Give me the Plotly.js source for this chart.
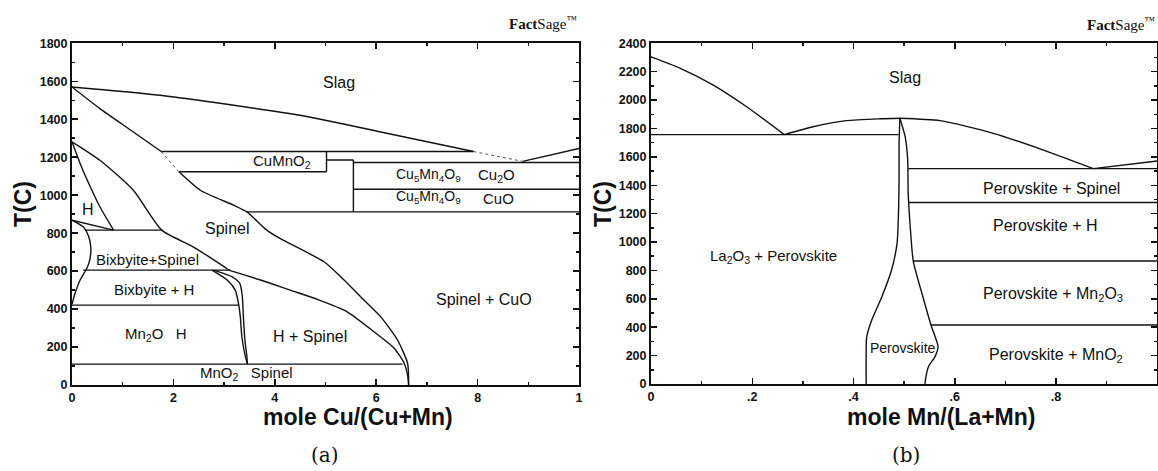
<!DOCTYPE html>
<html><head><meta charset="utf-8">
<script src="https://cdn.plot.ly/plotly-3.0.1.min.js"></script>
<style>html,body{margin:0;padding:0;background:#fff}#chart{width:1158px;height:471px}</style>
</head><body><div id="chart"></div><script>
// ---------- Panel (a): Cu-Mn-O, T(C) vs mole Cu/(Cu+Mn) ----------
const aLiqX = [0, 0.174, 0.45, 0.609, 0.792];
const aLiqT = [1570, 1526, 1421, 1333, 1230];
const aLiqDotX = [0.792, 0.889];
const aLiqDotT = [1230, 1178];
const aLiqRightX = [0.889, 1];
const aLiqRightT = [1178, 1246];
const aSpLiqX = [0, 0.055, 0.121, 0.176];
const aSpLiqT = [1570, 1456, 1333, 1230];
const aSpDotX = [0.176, 0.211];
const aSpDotT = [1230, 1123];
const aSpSolvX = [0.211, 0.253, 0.319, 0.345, 0.384, 0.411, 0.497, 0.530, 0.576, 0.609, 0.642, 0.662, 0.664];
const aSpSolvT = [1123, 1026, 947, 912, 816, 771, 649, 570, 447, 359, 237, 114, 0];
const aHSpX = [0.309, 0.372, 0.43, 0.485, 0.542, 0.595, 0.635, 0.655, 0.662, 0.664];
const aHSpT = [605, 553, 500, 450, 387, 282, 195, 116, 50, 0];
const aHLeftX = [0, 0.016, 0.036, 0.055, 0.082];
const aHLeftT = [1281, 1167, 1044, 939, 816];
const aSpLeftX = [0, 0.055, 0.121, 0.177, 0.239, 0.305, 0.309];
const aSpLeftT = [1281, 1184, 1026, 816, 728, 614, 605];
const aBixX = [0, 0.022, 0.032, 0.037, 0.035, 0.029, 0.016, 0.006, 0.0015, 0];
const aBixT = [868, 833, 789, 728, 658, 614, 553, 483, 440, 425];
const aTieX = [0, 0.082];
const aTieT = [868, 816];
const aH1X = [0.276, 0.306, 0.322, 0.329, 0.332, 0.335, 0.342, 0.346];
const aH1T = [605, 553, 500, 421, 359, 254, 149, 110];
const aH2X = [0.279, 0.316, 0.331, 0.336, 0.338, 0.341, 0.345, 0.346];
const aH2T = [605, 570, 535, 465, 359, 237, 149, 110];
// horizontal invariant lines (a): T, start, end
const aIsoT = [1230, 1123, 1185, 1172, 1031, 912, 816, 605, 421, 110];
const aIsoX0 = [0.176, 0.211, 0.502, 0.555, 0.555, 0.345, 0.026, 0.022, 0, 0];
const aIsoX1 = [0.792, 0.502, 0.555, 1, 1, 1, 0.177, 0.312, 0.329, 0.652];
// vertical lines (a): x, low T, high T
const aVertX = [0.502, 0.555];
const aVertT0 = [1123, 912];
const aVertT1 = [1230, 1185];

// ---------- Panel (b): La-Mn-O, T(C) vs mole Mn/(La+Mn) ----------
const bLiqLX = [0, 0.058, 0.123, 0.189, 0.263];
const bLiqLT = [2305, 2224, 2106, 1953, 1757];
const bLiqMX = [0.263, 0.320, 0.386, 0.452, 0.4916];
const bLiqMT = [1757, 1812, 1855, 1868, 1872];
const bLiqRX = [0.4916, 0.571, 0.676, 0.775, 0.874];
const bLiqRT = [1872, 1855, 1766, 1648, 1517];
const bLiqFX = [0.874, 1];
const bLiqFT = [1517, 1571];
const bPerLX = [0.4916, 0.490, 0.490, 0.489, 0.486, 0.475, 0.456, 0.436, 0.426, 0.425, 0.425];
const bPerLT = [1872, 1695, 1460, 1226, 991, 801, 615, 451, 330, 250, 0];
const bPerRX = [0.4916, 0.502, 0.507, 0.508, 0.512, 0.518, 0.537, 0.553, 0.567, 0.561, 0.548, 0.543, 0.541];
const bPerRT = [1872, 1742, 1578, 1343, 1108, 866, 615, 416, 263, 193, 122, 51, 0];
const bIsoT = [1757, 1517, 1279, 866, 416];
const bIsoX0 = [0, 0.508, 0.508, 0.518, 0.553];
const bIsoX1 = [0.489, 1, 1, 1, 1];

// ---------- tick labels ----------
const xTickVals = [0, 0.2, 0.4, 0.6, 0.8, 1];
const aXTickText = ['0', '2', '4', '6', '8', '1'];
const bXTickText = ['0', '.2', '.4', '.6', '.8', '1'];

// ---------- phase labels ----------
const aLabText = ['Slag', 'CuMnO<sub>2</sub>', 'Cu<sub>5</sub>Mn<sub>4</sub>O<sub>9</sub>', 'Cu<sub>2</sub>O',
  'Cu<sub>5</sub>Mn<sub>4</sub>O<sub>9</sub>', 'CuO', 'H', 'Spinel', 'Bixbyite+Spinel', 'Bixbyite + H',
  'Mn<sub>2</sub>O   H', 'H + Spinel', 'Spinel + CuO', 'MnO<sub>2</sub>   Spinel'];
const aLabX = [0.526, 0.414, 0.703, 0.837, 0.703, 0.842, 0.032, 0.306, 0.148, 0.161, 0.165, 0.470, 0.813, 0.345];
const aLabT = [1596, 1176, 1105, 1105, 992, 985, 925, 825, 662, 504, 268, 254, 451, 58];
const aLabSize = [16, 15, 14, 15, 14, 15, 16, 16, 15, 15, 15, 16, 16, 15];
const bLabText = ['Slag', 'La<sub>2</sub>O<sub>3</sub> + Perovskite', 'Perovskite + Spinel', 'Perovskite + H',
  'Perovskite + Mn<sub>2</sub>O<sub>3</sub>', 'Perovskite + MnO<sub>2</sub>', 'Perovskite'];
const bLabX = [0.502, 0.241, 0.791, 0.778, 0.794, 0.800, 0.498];
const bLabT = [2160, 897, 1378, 1120, 627, 204, 251];
const bLabSize = [16, 15, 16, 16, 16, 16, 14];

const INK = '#111';
function line(x, y, panel, opt) {
  opt = opt || {};
  return {type: 'scatter', mode: 'lines', x: x, y: y,
    xaxis: panel === 2 ? 'x2' : 'x', yaxis: panel === 2 ? 'y2' : 'y',
    line: {color: opt.color || INK, width: opt.width || 1.4, shape: opt.shape || 'linear',
      smoothing: 0.6, dash: opt.dash || 'solid'},
    hoverinfo: 'skip', showlegend: false};
}
const traces = [];
const sp = {shape: 'spline'};
traces.push(line(aLiqX, aLiqT, 1, sp));
traces.push(line(aLiqDotX, aLiqDotT, 1, {dash: 'dot', width: 1, color: '#555'}));
traces.push(line(aLiqRightX, aLiqRightT, 1));
traces.push(line(aSpLiqX, aSpLiqT, 1, sp));
traces.push(line(aSpDotX, aSpDotT, 1, {dash: 'dot', width: 1, color: '#555'}));
traces.push(line(aSpSolvX, aSpSolvT, 1, sp));
traces.push(line(aHSpX, aHSpT, 1, sp));
traces.push(line(aHLeftX, aHLeftT, 1, sp));
traces.push(line(aSpLeftX, aSpLeftT, 1, sp));
traces.push(line(aBixX, aBixT, 1, sp));
traces.push(line(aTieX, aTieT, 1));
traces.push(line(aH1X, aH1T, 1, sp));
traces.push(line(aH2X, aH2T, 1, sp));
aIsoT.forEach((t, i) => traces.push(line([aIsoX0[i], aIsoX1[i]], [t, t], 1)));
aVertX.forEach((x, i) => traces.push(line([x, x], [aVertT0[i], aVertT1[i]], 1)));

traces.push(line(bLiqLX, bLiqLT, 2, sp));
traces.push(line(bLiqMX, bLiqMT, 2, sp));
traces.push(line(bLiqRX, bLiqRT, 2, sp));
traces.push(line(bLiqFX, bLiqFT, 2));
traces.push(line(bPerLX, bPerLT, 2, sp));
traces.push(line(bPerRX, bPerRT, 2, sp));
bIsoT.forEach((t, i) => traces.push(line([bIsoX0[i], bIsoX1[i]], [t, t], 2)));

const tickFont = {family: 'Liberation Sans, Arial, sans-serif', size: 12.5, color: INK, weight: 'bold'};
function axisBase(extra) {
  return Object.assign({
    showline: true, linewidth: 2, linecolor: INK, mirror: 'allticks',
    ticks: 'inside', ticklen: 6, tickwidth: 1.5, tickcolor: INK,
    showgrid: false, zeroline: false, fixedrange: true, tickfont: tickFont
  }, extra);
}
function labFont(s) { return {family: 'Liberation Sans, Arial, sans-serif', size: s, color: INK}; }
const annotations = [];
aLabText.forEach((t, i) => annotations.push({x: aLabX[i], y: aLabT[i], xref: 'x', yref: 'y', text: t,
  showarrow: false, font: labFont(aLabSize[i]), xanchor: 'center', yanchor: 'middle'}));
bLabText.forEach((t, i) => annotations.push({x: bLabX[i], y: bLabT[i], xref: 'x2', yref: 'y2', text: t,
  showarrow: false, font: labFont(bLabSize[i]), xanchor: 'center', yanchor: 'middle'}));
const W = 1158, H = 471;
function paper(px, py, text, font, extra) {
  annotations.push(Object.assign({x: px / W, y: 1 - py / H, xref: 'paper', yref: 'paper', text: text,
    showarrow: false, font: font, xanchor: 'center', yanchor: 'middle'}, extra || {}));
}
const titleFont = {family: 'Liberation Sans, Arial, sans-serif', size: 23, color: INK, weight: 'bold'};
paper(358, 417, '<b>mole Cu/(Cu+Mn)</b>', titleFont);
paper(941, 417, '<b>mole Mn/(La+Mn)</b>', titleFont);
paper(23, 204, '<b>T(C)</b>', titleFont, {textangle: -90});
paper(603, 204, '<b>T(C)</b>', titleFont, {textangle: -90});
const serif = {family: 'DejaVu Serif, Liberation Serif, serif', size: 20, color: INK};
paper(325, 455, '(a)', serif);
paper(906, 455, '(b)', serif);
const logoFont = {family: 'Liberation Serif, serif', size: 15, color: INK};
paper(543, 23, '<b>Fact</b>Sage<sup>™</sup>', logoFont);
paper(1121, 24, '<b>Fact</b>Sage<sup>™</sup>', logoFont);

const layout = {
  width: W, height: H, margin: {l: 0, r: 0, t: 0, b: 0},
  paper_bgcolor: '#fff', plot_bgcolor: '#fff', showlegend: false,
  xaxis: axisBase({domain: [72 / W, 579 / W], range: [0, 1], anchor: 'y', tickmode: 'array',
    tickvals: xTickVals, ticktext: aXTickText, minor: {dtick: 0.1, tick0: 0, ticks: 'inside', ticklen: 3, tickcolor: INK}}),
  yaxis: axisBase({domain: [1 - 385 / H, 1 - 43.3 / H], range: [0, 1800], anchor: 'x', dtick: 200, tick0: 0,
    minor: {dtick: 100, tick0: 0, ticks: 'inside', ticklen: 3, tickcolor: INK}}),
  xaxis2: axisBase({domain: [651 / W, 1157.3 / W], range: [0, 1], anchor: 'y2', tickmode: 'array',
    tickvals: xTickVals, ticktext: bXTickText, minor: {dtick: 0.1, tick0: 0, ticks: 'inside', ticklen: 3, tickcolor: INK}}),
  yaxis2: axisBase({domain: [1 - 384 / H, 1 - 43.3 / H], range: [0, 2400], anchor: 'x2', dtick: 200, tick0: 0,
    minor: {dtick: 100, tick0: 0, ticks: 'inside', ticklen: 3, tickcolor: INK}}),
  annotations: annotations
};
Plotly.newPlot('chart', traces, layout, {displayModeBar: false, staticPlot: true});
</script></body></html>
